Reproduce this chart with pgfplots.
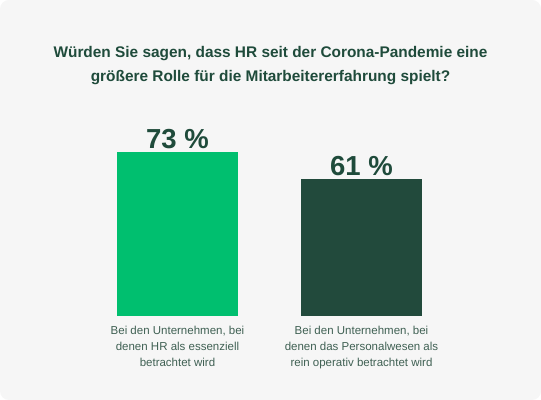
\documentclass[border=0pt]{standalone}
\usepackage{pgfplots}
\pgfplotsset{compat=1.18}
\usepackage{fontspec}
\setmainfont{Liberation Sans}
\definecolor{cardbg}{HTML}{F6F6F6}
\definecolor{txtgreen}{HTML}{1F4B3B}
\definecolor{lblgreen}{HTML}{3F6053}
\definecolor{brightgreen}{HTML}{00BF6F}
\definecolor{darkgreen}{HTML}{224A3C}
\begin{document}
\begin{tikzpicture}
  % card background
  \fill[white] (0,0) rectangle (541bp,400bp);
  \fill[cardbg, rounded corners=9bp] (0,0) rectangle (541bp,400bp);
  % title
  \node[align=center, text=txtgreen, font={\fontsize{15.4bp}{24bp}\selectfont\bfseries}]
    at (270.5bp,334.5bp) {Würden Sie sagen, dass HR seit der Corona-Pandemie eine\\
    größere Rolle für die Mitarbeitererfahrung spielt?};
  \begin{axis}[
    at={(85.5bp,84bp)}, anchor=south west,
    scale only axis, width=368bp, height=224.2bp,
    xmin=-0.5, xmax=1.5, ymin=0, ymax=100,
    axis line style={draw=none}, tick style={draw=none},
    ytick=\empty, xtick={0,1},
    xticklabels={{Bei den Unternehmen, bei\\denen HR als essenziell\\betrachtet wird},
                 {Bei den Unternehmen, bei\\denen das Personalwesen als\\rein operativ betrachtet wird}},
    xticklabel style={align=center, text=lblgreen,
      font={\fontsize{11.5bp}{16bp}\selectfont}, yshift=-2.5bp},
    ybar, bar width=121bp, bar shift=0pt, clip=false,
    /pgf/number format/assume math mode=true,
    nodes near coords={\pgfmathprintnumber{\pgfplotspointmeta}~\%},
    nodes near coords style={text=txtgreen, font={\fontsize{27.5bp}{29bp}\selectfont\bfseries}, yshift=0bp},
  ]
    \addplot[fill=brightgreen, draw=none] coordinates {(0,73)};
    \addplot[fill=darkgreen, draw=none] coordinates {(1,61)};
  \end{axis}
\end{tikzpicture}
\end{document}
